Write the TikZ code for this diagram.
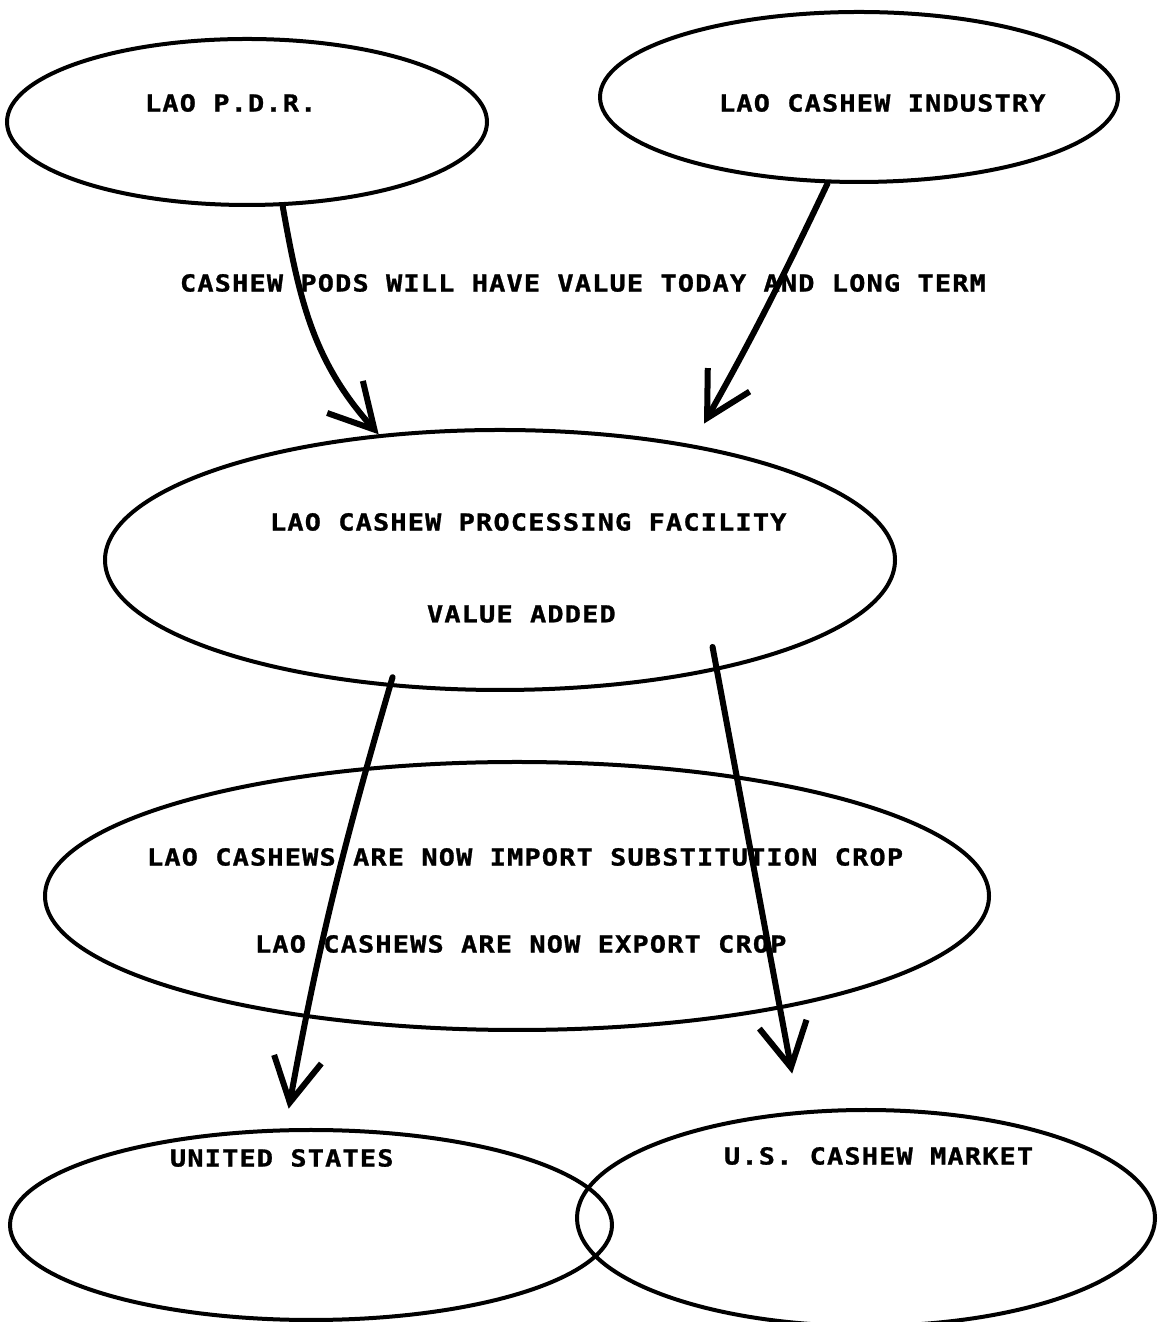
\documentclass[tikz,border=0pt]{standalone}
\usepackage{fontspec}
\newfontfamily\printfont[FakeStretch=1.15,LetterSpace=5,FakeBold=1.2]{DejaVu Sans Mono}
\usetikzlibrary{arrows.meta,shapes.geometric}

\begin{document}
\begin{tikzpicture}[x=0.5pt,y=0.5pt,line width=2pt,
  blob/.style={ellipse,draw,inner sep=0pt},
  lbl/.style={anchor=west,inner sep=0pt,font=\printfont\bfseries\fontsize{11.7pt}{14pt}\selectfont},
  arr/.style={line width=3pt,line cap=round,-{Straight Barb[length=22pt,width=24pt]}}]
  \useasboundingbox (0,0) rectangle (1158,1322);
  % rings
  \node[blob,minimum width=240pt,minimum height=83pt] (pdr) at (247,1200) {};
  \node[blob,minimum width=259pt,minimum height=85pt] (industry) at (859,1225) {};
  \node[blob,minimum width=395pt,minimum height=130pt] (facility) at (500,762) {};
  \node[blob,minimum width=472pt,minimum height=134pt] (crop) at (517,426) {};
  \node[blob,minimum width=301pt,minimum height=95pt] (us) at (311,97) {};
  \node[blob,minimum width=289pt,minimum height=108pt] (market) at (866,104) {};
  % texts
  \node[lbl] (pdrtxt) at (143,1219) {LAO P.D.R.};
  \node[lbl] (indtxt) at (717,1219) {LAO CASHEW INDUSTRY};
  \node[lbl] (podtxt) at (178,1039) {CASHEW PODS WILL HAVE VALUE TODAY AND LONG TERM};
  \node[lbl] (factxt) at (268,800) {LAO CASHEW PROCESSING FACILITY};
  \node[lbl] (addtxt) at (425,708) {VALUE ADDED};
  \node[lbl] (imptxt) at (145,465) {LAO CASHEWS ARE NOW IMPORT SUBSTITUTION CROP};
  \node[lbl] (exptxt) at (253,378) {LAO CASHEWS ARE NOW EXPORT CROP};
  \node[lbl] (ustxt) at (168,164) {UNITED STATES};
  \node[lbl] (mkttxt) at (722,166) {U.S. CASHEW MARKET};
  % arrows
  \draw[arr] (pdr.-67) to[out=-80,in=132] (facility.134);
  \draw[arr,shorten >=12pt] (industry.-110) to[bend left=2] (facility.31);
  \draw[arr,shorten <=-5pt,shorten >=10pt] (facility.-131) to[bend right=3] (us.105);
  \draw[arr,shorten <=-12pt,shorten >=19pt] (facility.-27) -- (market.122);
\end{tikzpicture}
\end{document}
